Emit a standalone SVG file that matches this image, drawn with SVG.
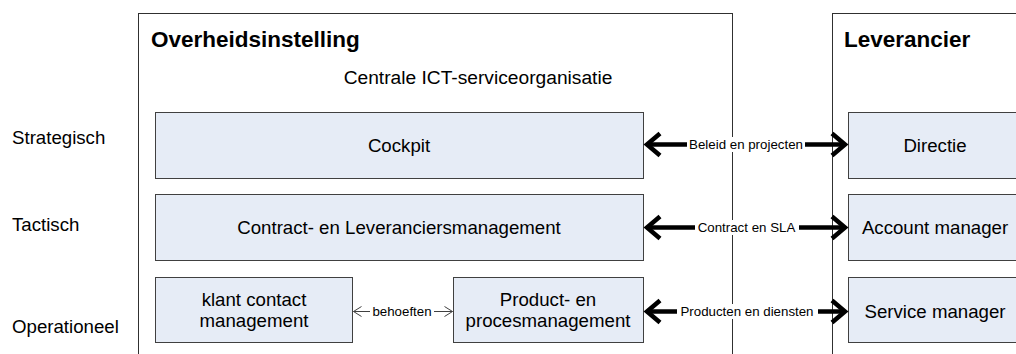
<svg xmlns="http://www.w3.org/2000/svg" width="1016" height="354" viewBox="0 0 1016 354">
  <style>
    text { font-family: "Liberation Sans", Arial, sans-serif; fill: #000; }
    .title { font-size: 22.5px; font-weight: bold; }
    .lbl { font-size: 18.67px; }
    .mid { text-anchor: middle; }
    .small { font-size: 13.3px; text-anchor: middle; }
    .container { fill: #fff; stroke: #303030; stroke-width: 1; }
    .box { fill: #E6ECF6; stroke: #404040; stroke-width: 1; }
    .thick { stroke: #000; stroke-width: 4.5; fill: none; }
    .thin { stroke: #404040; stroke-width: 1; fill: none; }
    .bg { fill: #fff; }
  </style>
  <defs>
    <marker id="headThick" markerUnits="userSpaceOnUse" orient="auto-start-reverse" markerWidth="30" markerHeight="30" viewBox="-20 -15 24 30" refX="0" refY="0" overflow="visible">
      <path d="M -13 -11 L 0 0 L -13 11" fill="none" stroke="#000" stroke-width="4.5"/>
    </marker>
    <marker id="headThin" markerUnits="userSpaceOnUse" orient="auto-start-reverse" markerWidth="14" markerHeight="14" viewBox="-10 -7 12 14" refX="0" refY="0" overflow="visible">
      <path d="M -8 -5 L 0 0 L -8 5" fill="none" stroke="#404040" stroke-width="1"/>
    </marker>
  </defs>
  <rect width="1016" height="354" fill="#fff"/>

  <g id="levels">
    <text class="lbl" x="12" y="144">Strategisch</text>
    <text class="lbl" x="12" y="231">Tactisch</text>
    <text class="lbl" x="12" y="333">Operationeel</text>
  </g>

  <g id="overheidsinstelling">
    <rect class="container" x="138.5" y="13.5" width="594" height="360"/>
    <text class="title" x="151" y="47">Overheidsinstelling</text>
    <text class="lbl mid" x="478" y="84" style="font-size:19.2px">Centrale ICT-serviceorganisatie</text>
  </g>

  <g id="leverancier">
    <rect class="container" x="832.5" y="13.5" width="200" height="360"/>
    <text class="title" x="844" y="47">Leverancier</text>
  </g>

  <g id="cockpit">
    <rect class="box" x="155.5" y="112.5" width="488" height="66"/>
    <text class="lbl mid" x="399" y="152">Cockpit</text>
  </g>
  <g id="contract">
    <rect class="box" x="155.5" y="194.5" width="488" height="66"/>
    <text class="lbl mid" x="399" y="234">Contract- en Leveranciersmanagement</text>
  </g>
  <g id="klant">
    <rect class="box" x="155.5" y="277.5" width="197" height="65"/>
    <text class="lbl mid" x="254" y="306">klant contact</text>
    <text class="lbl mid" x="254" y="327">management</text>
  </g>
  <g id="product">
    <rect class="box" x="453.5" y="277.5" width="190" height="65"/>
    <text class="lbl mid" x="548" y="306">Product- en</text>
    <text class="lbl mid" x="548" y="327">procesmanagement</text>
  </g>
  <g id="directie">
    <rect class="box" x="848.5" y="112.5" width="180" height="66"/>
    <text class="lbl mid" x="935" y="152">Directie</text>
  </g>
  <g id="account">
    <rect class="box" x="848.5" y="194.5" width="180" height="66"/>
    <text class="lbl mid" x="935" y="234">Account manager</text>
  </g>
  <g id="service">
    <rect class="box" x="848.5" y="277.5" width="180" height="65"/>
    <text class="lbl mid" x="935" y="318">Service manager</text>
  </g>

  <g id="connectors">
    <line class="thick" x1="647" y1="144.5" x2="845" y2="144.5" marker-start="url(#headThick)" marker-end="url(#headThick)"/>
    <rect class="bg" x="687" y="137" width="118" height="15"/>
    <text class="small" x="746" y="149">Beleid en projecten</text>

    <line class="thick" x1="647" y1="227.5" x2="845" y2="227.5" marker-start="url(#headThick)" marker-end="url(#headThick)"/>
    <rect class="bg" x="695" y="220" width="104" height="15"/>
    <text class="small" x="746.5" y="232">Contract en SLA</text>

    <line class="thick" x1="647" y1="311.5" x2="845" y2="311.5" marker-start="url(#headThick)" marker-end="url(#headThick)"/>
    <rect class="bg" x="677" y="304" width="141" height="15"/>
    <text class="small" x="747" y="316">Producten en diensten</text>

    <line class="thin" x1="353.5" y1="311.5" x2="452.5" y2="311.5" marker-start="url(#headThin)" marker-end="url(#headThin)"/>
    <rect class="bg" x="370" y="305" width="64" height="13"/>
    <text class="small" x="402" y="316">behoeften</text>
  </g>
</svg>
